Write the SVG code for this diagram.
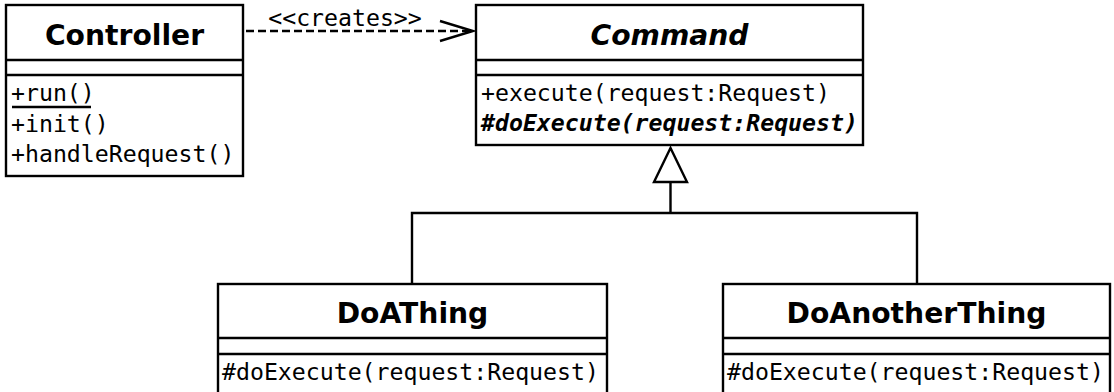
<svg xmlns="http://www.w3.org/2000/svg" width="1114" height="392" viewBox="0 0 1114 392">
<style>
.box{fill:#fff;stroke:#000;stroke-width:2.4}
.ln{stroke:#000;stroke-width:2.4;fill:none}
.title{font-family:"DejaVu Sans",sans-serif;font-weight:bold;font-size:28.2px;text-anchor:middle}
.mem{font-family:"DejaVu Sans Mono",monospace;font-size:23.2px}
</style>
<rect width="1114" height="392" fill="#fff"/>
<g id="connectors">
<path class="ln" d="M246,31 H470" stroke-dasharray="8,4" stroke-width="2"/>
<path class="ln" d="M440,21 L473,31 L440,41" stroke-width="2"/>
<text class="mem" x="345" y="26" text-anchor="middle">&lt;&lt;creates&gt;&gt;</text>
<path class="ln" d="M412,284 V213 H917 V284 M670.5,213 V182"/>
<polygon class="box" points="670.5,148 654,182 687,182"/>
</g>
<g id="Controller">
<rect class="box" x="6" y="5" width="237" height="171"/>
<path class="ln" d="M6,60 H243 M6,75 H243"/>
<text class="title" x="124.5" y="45">Controller</text>
<text class="mem" x="11" y="101">+run()</text>
<path class="ln" d="M12,107 H91" stroke-width="2"/>
<text class="mem" x="11" y="132">+init()</text>
<text class="mem" x="11" y="162">+handleRequest()</text>
</g>
<g id="Command">
<rect class="box" x="476" y="5" width="387" height="140"/>
<path class="ln" d="M476,60 H863 M476,75 H863"/>
<text class="title" x="669.5" y="45" font-style="italic">Command</text>
<text class="mem" x="481" y="101">+execute(request:Request)</text>
<text class="mem" x="481" y="131" font-weight="bold" font-style="italic">#doExecute(request:Request)</text>
</g>
<g id="DoAThing">
<rect class="box" x="218" y="284" width="389" height="120"/>
<path class="ln" d="M218,338 H607 M218,354 H607"/>
<text class="title" x="412.5" y="323">DoAThing</text>
<text class="mem" x="222" y="380">#doExecute(request:Request)</text>
</g>
<g id="DoAnotherThing">
<rect class="box" x="723" y="284" width="387" height="120"/>
<path class="ln" d="M723,338 H1110 M723,354 H1110"/>
<text class="title" x="916.5" y="323">DoAnotherThing</text>
<text class="mem" x="727" y="380">#doExecute(request:Request)</text>
</g>
</svg>
